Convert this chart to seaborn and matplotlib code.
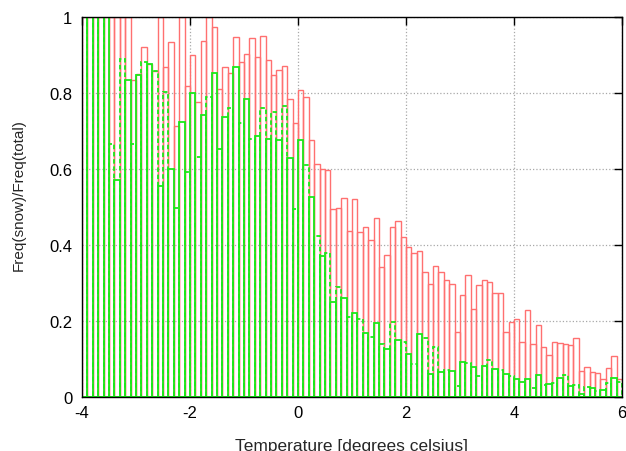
import numpy as np
import pandas as pd
import matplotlib
matplotlib.use('Agg')
import matplotlib.pyplot as plt
import seaborn as sns

# 0.1 degree bins from -4 to 6
t_start = -4.0
t_step = 0.1

# ratio for all observations (red boxes)
red_ratio = [
    1.0, 1.0, 1.0, 1.0, 1.0, 1.0, 1.0, 1.0, 1.0, 0.835,
    0.850, 0.920, 0.876, 0.859, 1.0, 0.868, 0.935, 0.714, 1.0, 0.819,
    0.900, 0.777, 0.936, 1.0, 0.975, 0.810, 0.868, 0.853, 0.948, 0.881,
    0.903, 0.944, 0.896, 0.949, 0.888, 0.847, 0.861, 0.870, 0.784, 0.721,
    0.809, 0.789, 0.677, 0.613, 0.600, 0.598, 0.495, 0.497, 0.524, 0.438,
    0.521, 0.433, 0.447, 0.414, 0.470, 0.341, 0.374, 0.447, 0.464, 0.420,
    0.394, 0.379, 0.385, 0.328, 0.297, 0.344, 0.330, 0.308, 0.297, 0.170,
    0.268, 0.321, 0.232, 0.296, 0.308, 0.302, 0.274, 0.275, 0.172, 0.198,
    0.205, 0.144, 0.228, 0.140, 0.189, 0.131, 0.111, 0.144, 0.141, 0.140,
    0.137, 0.154, 0.069, 0.080, 0.065, 0.063, 0.047, 0.076, 0.109, 0.047,
]

# ratio for the second set (green boxes)
green_ratio = [
    1.0, 1.0, 1.0, 1.0, 1.0, 0.667, 0.571, 0.889, 0.835, 0.667,
    0.847, 0.881, 0.876, 0.859, 0.556, 0.802, 0.600, 0.497, 0.723, 0.591,
    0.800, 0.631, 0.742, 0.789, 0.854, 0.653, 0.738, 0.760, 0.869, 0.721,
    0.784, 0.679, 0.688, 0.760, 0.679, 0.751, 0.677, 0.767, 0.628, 0.495,
    0.677, 0.611, 0.526, 0.423, 0.372, 0.379, 0.251, 0.289, 0.260, 0.210,
    0.221, 0.204, 0.168, 0.157, 0.195, 0.139, 0.126, 0.198, 0.151, 0.146,
    0.113, 0.087, 0.166, 0.154, 0.061, 0.131, 0.065, 0.072, 0.069, 0.028,
    0.091, 0.089, 0.078, 0.056, 0.081, 0.098, 0.074, 0.072, 0.061, 0.054,
    0.047, 0.040, 0.047, 0.023, 0.058, 0.032, 0.034, 0.037, 0.049, 0.058,
    0.030, 0.032, 0.008, 0.025, 0.023, 0.017, 0.019, 0.037, 0.049, 0.040,
]

n = len(red_ratio)
edges = [round(t_start + t_step * i, 2) for i in range(n + 1)]
centers = [round(e + t_step / 2, 3) for e in edges[:-1]]
df = pd.DataFrame({'temp': centers, 'red': red_ratio, 'green': green_ratio})

sns.set_style('white')
plt.rcParams['font.family'] = ['Liberation Sans', 'DejaVu Sans']
plt.rcParams['axes.unicode_minus'] = False

fig, ax = plt.subplots(figsize=(6.26, 4.52), dpi=100)
fig.subplots_adjust(left=0.131, right=0.9936, bottom=0.1195, top=0.960)

ax.grid(True, linestyle=':', color='#a8a8a8', linewidth=0.9)
ax.set_axisbelow(True)

sns.histplot(data=df, x='temp', weights='red', bins=edges, fill=False,
             color='#ff7070', linewidth=1.0, ax=ax)
# gnuplot draws the green boxes with mixed solid / dashed edges
sns.histplot(data=df.iloc[::2], x='temp', weights='green', bins=edges, fill=False,
             color='#19ea19', linewidth=1.3, ax=ax)
sns.histplot(data=df.iloc[1::2], x='temp', weights='green', bins=edges, fill=False,
             color='#19ea19', linewidth=1.3, linestyle=(0, (2.5, 1.5)), ax=ax)

ax.set_xlim(-4, 6)
ax.set_ylim(0, 1)
ax.set_xticks([-4, -2, 0, 2, 4, 6])
ax.set_yticks([0, 0.2, 0.4, 0.6, 0.8, 1.0])
ax.yaxis.set_major_formatter(plt.FuncFormatter(lambda v, p: '%g' % v))
ax.tick_params(direction='in', top=True, right=True, length=6, width=1,
               labelsize=12, colors='black', pad=7)
ax.tick_params(axis='x', pad=6)
for s in ax.spines.values():
    s.set_visible(True)
    s.set_color('black')
    s.set_linewidth(1.0)

ax.set_xlabel('Temperature [degrees celsius]', fontsize=12.5, labelpad=13)
ax.set_ylabel('Freq(snow)/Freq(total)', fontsize=11)
ax.yaxis.set_label_coords(-0.105, 0.534)

fig.savefig('out.png', dpi=100)
